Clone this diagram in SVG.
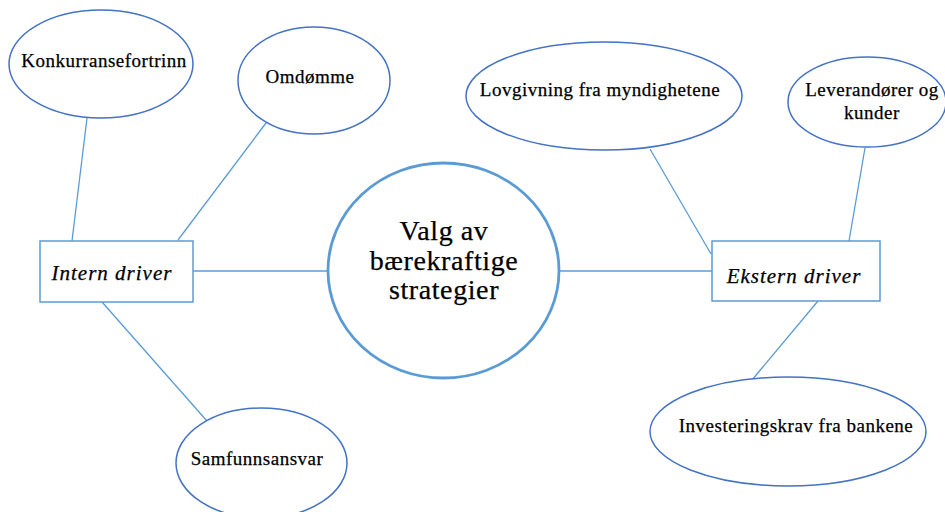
<svg xmlns="http://www.w3.org/2000/svg" width="945" height="512" viewBox="0 0 945 512">
<style>
.ell{fill:#fff;stroke:#4472c4;stroke-width:1.5}
.box{fill:#fff;stroke:#5b9bd5;stroke-width:1.5}
.hub{fill:#fff;stroke:#5b9bd5;stroke-width:2.8}
.con line{stroke:#5b9bd5;stroke-width:1.3}
text{font-family:"Liberation Serif","Times New Roman",serif;fill:#000;text-anchor:middle;stroke:#000;stroke-width:0.25}
.t{font-size:19px;letter-spacing:0.5px}
.d{font-size:21px;font-style:italic;letter-spacing:1px}
.h{font-size:28px;letter-spacing:0.6px}
</style>
<rect width="945" height="512" fill="#fff"/>
<g class="con">
<line x1="87" y1="118" x2="72" y2="241"/>
<line x1="266" y1="123" x2="178" y2="240"/>
<line x1="193" y1="271" x2="328" y2="271"/>
<line x1="102" y1="302" x2="207" y2="421"/>
<line x1="559" y1="271" x2="712" y2="271"/>
<line x1="650" y1="149" x2="711" y2="254"/>
<line x1="865" y1="148" x2="849" y2="241"/>
<line x1="818" y1="301" x2="752" y2="380"/>
</g>
<g id="konkurransefortrinn">
<ellipse class="ell" cx="101" cy="64" rx="92" ry="54"/>
<text class="t" x="104" y="67">Konkurransefortrinn</text>
</g>
<g id="omdomme">
<ellipse class="ell" cx="314" cy="80.5" rx="76" ry="53.5"/>
<text class="t" x="310" y="83">Omdømme</text>
</g>
<g id="intern">
<rect class="box" x="40" y="241" width="153" height="61"/>
<text class="d" x="112" y="280">Intern driver</text>
</g>
<g id="samfunnsansvar">
<ellipse class="ell" cx="261.5" cy="463" rx="85.5" ry="55"/>
<text class="t" x="257" y="465">Samfunnsansvar</text>
</g>
<g id="hub">
<ellipse class="hub" cx="443.5" cy="270.5" rx="115.5" ry="107.5"/>
<text class="h" x="444" y="240">Valg av</text>
<text class="h" x="444" y="270">bærekraftige</text>
<text class="h" x="444" y="299">strategier</text>
</g>
<g id="lovgivning">
<ellipse class="ell" cx="604" cy="96" rx="138" ry="54"/>
<text class="t" x="600" y="96">Lovgivning fra myndighetene</text>
</g>
<g id="leverandorer">
<ellipse class="ell" cx="867" cy="102" rx="79" ry="45"/>
<text class="t" x="872" y="96">Leverandører og</text>
<text class="t" x="872" y="119">kunder</text>
</g>
<g id="ekstern">
<rect class="box" x="712" y="241" width="168" height="60"/>
<text class="d" x="794" y="283">Ekstern driver</text>
</g>
<g id="investeringskrav">
<ellipse class="ell" cx="788" cy="431.5" rx="138" ry="54.5"/>
<text class="t" x="796" y="432">Investeringskrav fra bankene</text>
</g>
</svg>
